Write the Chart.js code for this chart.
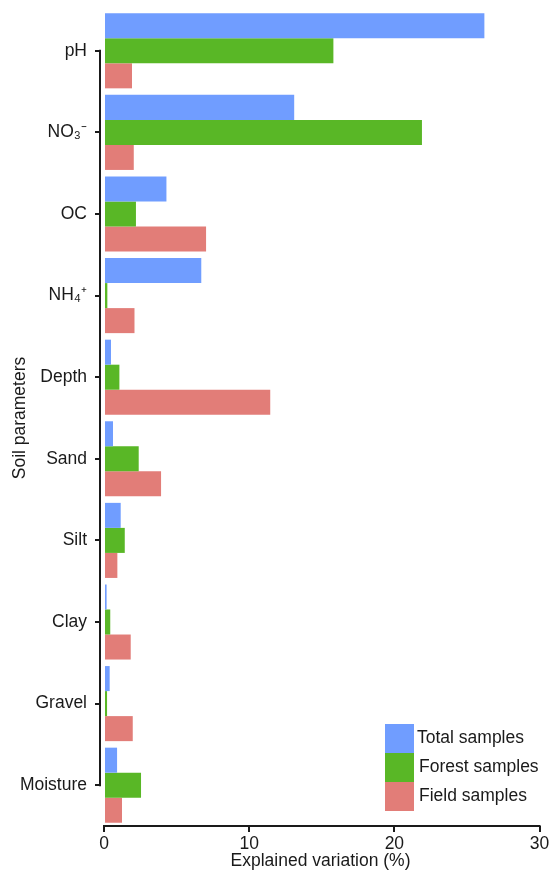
<!DOCTYPE html>
<html>
<head>
<meta charset="utf-8">
<script src="https://cdn.jsdelivr.net/npm/chart.js@4.4.1/dist/chart.umd.min.js"></script>
<style>
  html, body { margin: 0; padding: 0; background: #fff; }
  #wrap { width: 559px; height: 876px; }
</style>
</head>
<body>
<div id="wrap"><canvas id="chart"></canvas></div>
<script>
// Parametri tla i objasnjena varijacija (%)
const parameters = ['pH', 'NO\u2083\u207B', 'OC', 'NH\u2084\u207A', 'Depth', 'Sand', 'Silt', 'Clay', 'Gravel', 'Moisture'];
const totalSamples  = [26.2, 13.1, 4.3, 6.7, 0.48, 0.62, 1.15, 0.18, 0.39, 0.9];
const forestSamples = [15.8, 21.9, 2.2, 0.23, 1.06, 2.39, 1.43, 0.43, 0.21, 2.55];
const fieldSamples  = [1.93, 2.05, 7.03, 2.1, 11.45, 3.93, 0.92, 1.84, 1.98, 1.24];
const xTicks = [0, 10, 20, 30];

const seriesNames = ['Total samples', 'Forest samples', 'Field samples'];
const seriesColors = ['#709dff', '#59b726', '#e27d78'];

const FONT = '"Liberation Sans", Arial, sans-serif';
const FSIZE = 17.5;
const INK = '#1a1a1a';

// Ose crtamo same (samo u opsegu podataka), naslov y ose i legendu u uglu
const framePlugin = {
    id: 'frame',
    afterDraw(chart) {
        const ctx = chart.ctx;
        const area = chart.chartArea;
        const x = chart.scales.x;
        const y = chart.scales.y;
        ctx.save();
        ctx.strokeStyle = INK;
        ctx.lineWidth = 2;
        ctx.beginPath();
        ctx.moveTo(area.left, y.getPixelForValue(0) - 1);
        ctx.lineTo(area.left, y.getPixelForValue(parameters.length - 1) + 1);
        ctx.moveTo(x.getPixelForValue(0) - 1, area.bottom);
        ctx.lineTo(x.getPixelForValue(30) + 1, area.bottom);
        ctx.stroke();

        // naslov y ose
        ctx.font = FSIZE + 'px ' + FONT;
        ctx.fillStyle = INK;
        ctx.textAlign = 'center';
        ctx.textBaseline = 'middle';
        ctx.save();
        ctx.translate(20, (area.top + area.bottom) / 2);
        ctx.rotate(-Math.PI / 2);
        ctx.fillText('Soil parameters', 0, 0);
        ctx.restore();

        // legenda
        const box = 29;
        const lx = area.right - 156;
        const ly = area.bottom - 102;
        ctx.textAlign = 'left';
        chart.data.datasets.forEach((ds, i) => {
            ctx.fillStyle = ds.backgroundColor;
            ctx.fillRect(lx, ly + i * box, box, box);
            ctx.fillStyle = INK;
            ctx.fillText(ds.label, lx + box + (i === 0 ? 3 : 5), ly + i * box + box / 2);
        });
        ctx.restore();
    }
};

new Chart(document.getElementById('chart'), {
    type: 'bar',
    data: {
        labels: parameters,
        datasets: [
            { label: seriesNames[0], data: totalSamples, backgroundColor: seriesColors[0] },
            { label: seriesNames[1], data: forestSamples, backgroundColor: seriesColors[1] },
            { label: seriesNames[2], data: fieldSamples, backgroundColor: seriesColors[2] }
        ]
    },
    options: {
        indexAxis: 'y',
        responsive: true,
        maintainAspectRatio: false,
        animation: false,
        categoryPercentage: 0.92,
        barPercentage: 1,
        layout: { padding: { top: 10, right: 18, bottom: 0, left: 0 } },
        plugins: {
            legend: { display: false },
            tooltip: { enabled: false }
        },
        scales: {
            x: {
                min: -0.276,
                max: 30.1,
                afterBuildTicks: (scale) => {
                    scale.ticks = xTicks.map(v => ({ value: v }));
                },
                afterFit: (scale) => { scale.height = 50; },
                border: { display: false },
                grid: { drawOnChartArea: false, drawTicks: true, tickLength: 6, lineWidth: 2, color: INK },
                ticks: { color: INK, font: { family: FONT, size: FSIZE }, padding: 2 },
                title: {
                    display: true,
                    text: 'Explained variation (%)',
                    color: INK,
                    font: { family: FONT, size: FSIZE },
                    padding: { top: 0, bottom: 4 }
                }
            },
            y: {
                afterFit: (scale) => {
                    scale.width = 100;
                    scale.paddingTop = 0;
                    scale.paddingBottom = 0;
                },
                border: { display: false },
                grid: { offset: false, drawOnChartArea: false, drawTicks: true, tickLength: 5, lineWidth: 2, color: INK },
                ticks: { color: INK, font: { family: FONT, size: FSIZE }, padding: 8 }
            }
        }
    },
    plugins: [framePlugin]
});
</script>
</body>
</html>
